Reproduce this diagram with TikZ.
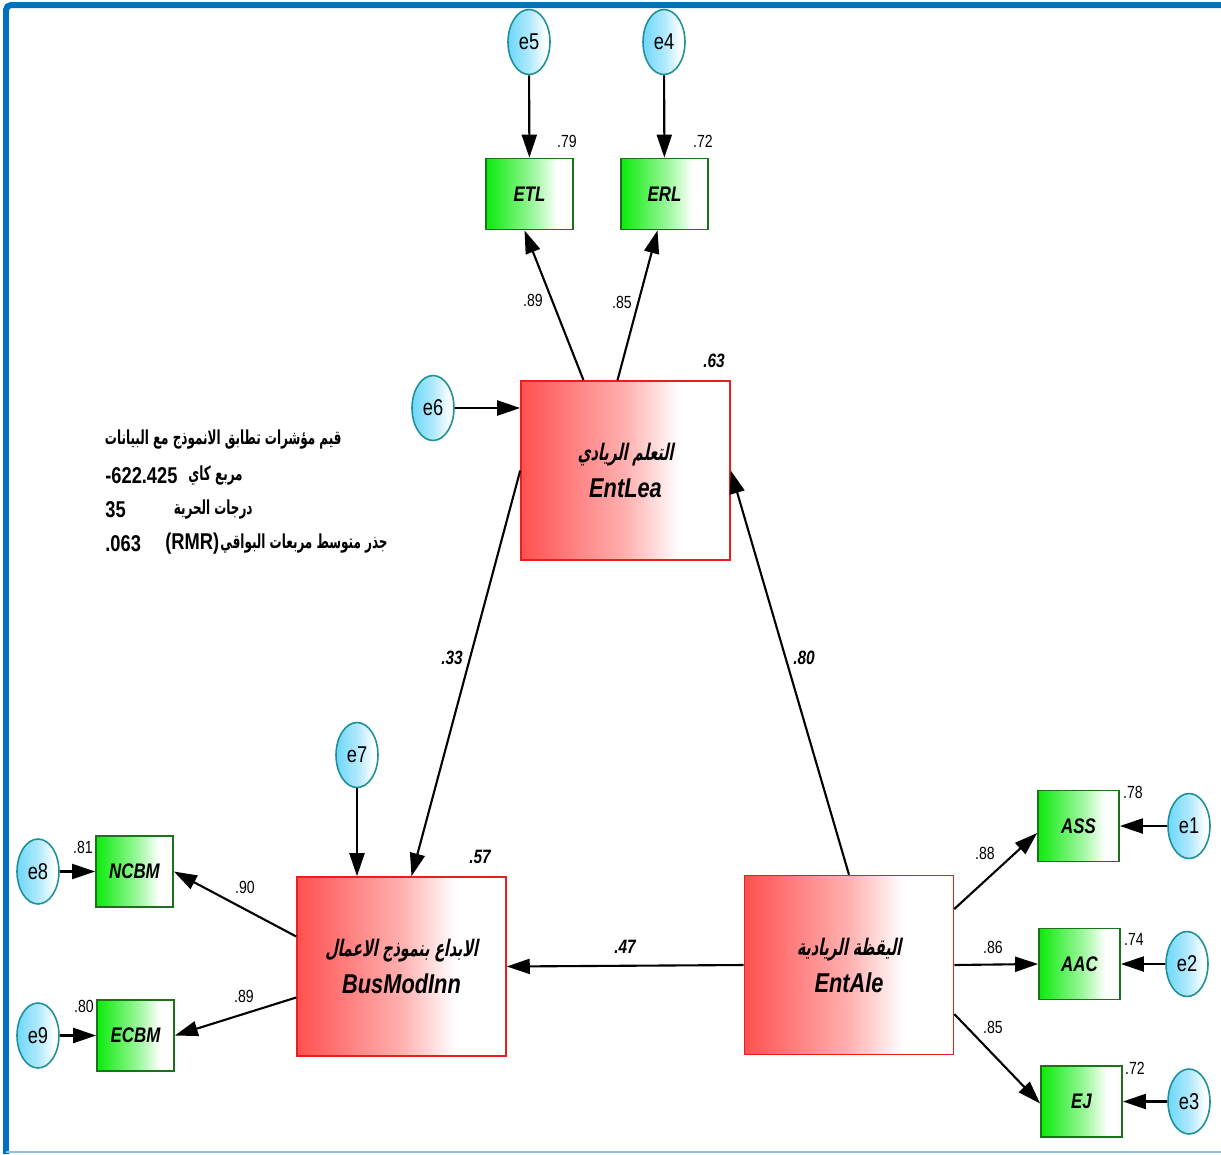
\documentclass[tikz,border=0pt]{standalone}
\usepackage{fontspec}
\setmainfont{Liberation Sans}
\newfontfamily\narrowfont[FakeStretch=0.8]{Liberation Sans}
\newfontfamily\arabicfont[Script=Arabic,FakeStretch=0.62,FakeSlant=0.2]{DejaVu Sans}
\newfontfamily\arabicplain[Script=Arabic,FakeStretch=0.62]{DejaVu Sans}
\TeXXeTstate=1
\usetikzlibrary{arrows.meta,shapes.geometric,calc}

\definecolor{latred}{RGB}{255,80,80}
\definecolor{latedge}{RGB}{235,30,30}
\definecolor{obsgreen}{RGB}{10,235,10}
\definecolor{obsedge}{RGB}{25,115,25}
\definecolor{errblue}{RGB}{110,215,250}
\definecolor{erredge}{RGB}{30,145,150}
\definecolor{frameblue}{RGB}{0,112,192}
\colorlet{latmid}{latred!45!white}
\colorlet{obsmid}{obsgreen!40!white}
\colorlet{errmid}{errblue!55!white}

\pgfdeclarehorizontalshading{latfill}{100bp}{color(0bp)=(latred); color(25bp)=(latred); color(50bp)=(latmid); color(63bp)=(white); color(100bp)=(white)}
\pgfdeclarehorizontalshading{obsfill}{100bp}{color(0bp)=(obsgreen); color(25bp)=(obsgreen); color(52bp)=(obsmid); color(66bp)=(white); color(100bp)=(white)}
\pgfdeclarehorizontalshading{errfill}{100bp}{color(0bp)=(errblue); color(25bp)=(errblue); color(50bp)=(errmid); color(70bp)=(white); color(100bp)=(white)}

\begin{document}
\begin{tikzpicture}[x=0.02cm, y=-0.02cm]
	\tikzstyle{latent}   = [rectangle, draw=latedge, line width=0.9pt, shading=latfill, shade,
	                        minimum width=4.18cm, minimum height=3.58cm, inner sep=0pt, align=center,
	                        font=\fontsize{15.5}{21}\selectfont]
	\tikzstyle{observed} = [rectangle, draw=obsedge, line width=1pt, shading=obsfill, shade,
	                        minimum width=1.62cm, minimum height=1.42cm, inner sep=0pt,
	                        font=\narrowfont\bfseries\itshape\fontsize{12}{14}\selectfont]
	\tikzstyle{error}    = [ellipse, draw=erredge, line width=0.9pt, shading=errfill, shade,
	                        minimum width=0.84cm, minimum height=1.3cm, inner sep=0pt,
	                        font=\narrowfont\fontsize{13}{15}\selectfont]
	\tikzstyle{loadlbl}  = [inner sep=0pt, font=\narrowfont\fontsize{10}{12}\selectfont]
	\tikzstyle{pathlbl}  = [inner sep=0pt, font=\narrowfont\bfseries\itshape\fontsize{11}{13}\selectfont]
	\tikzstyle{fittext}  = [inner sep=0pt, font=\narrowfont\bfseries\fontsize{13}{15}\selectfont]
	\tikzstyle{arr}      = [-{Triangle[length=0.46cm,width=0.3cm]}, line width=1.2pt]
	\useasboundingbox (0,0) rectangle (1221,1154);
	% frame
	\draw [frameblue, line width=0.12cm, rounded corners=0.1cm] (6,1154) -- (6,5) -- (1221,5);
	\draw [frameblue!45, line width=0.04cm] (6,1152) -- (1221,1152);
	% latent variables
	\node [latent] (EntLea)    at (625.5,470.5) {{\arabicfont\bfseries\fontsize{13}{16}\selectfont\beginR التعلم الريادي\endR}\\{\narrowfont\bfseries\itshape EntLea}};
	\node [latent] (BusModInn) at (401.5,966.5) {{\arabicfont\bfseries\fontsize{13}{16}\selectfont\beginR الابداع بنموذج الاعمال\endR}\\{\narrowfont\bfseries\itshape BusModInn}};
	\node [latent] (EntAle)    at (849,965)     {{\arabicfont\bfseries\fontsize{13}{16}\selectfont\beginR اليقظة الريادية\endR}\\{\narrowfont\bfseries\itshape EntAle}};
	% observed variables
	\node [observed, minimum width=1.74cm] (ETL)  at (529.5,194)   {ETL};
	\node [observed, minimum width=1.74cm] (ERL)  at (664.5,194)   {ERL};
	\node [observed, minimum width=1.54cm] (NCBM) at (134.5,871.5) {NCBM};
	\node [observed, minimum width=1.54cm] (ECBM) at (135.5,1035.5){ECBM};
	\node [observed] (ASS) at (1078.5,826)  {ASS};
	\node [observed] (AAC) at (1079.5,964)  {AAC};
	\node [observed] (EJ)  at (1081.5,1101.5) {EJ};
	% errors
	\node [error] (e5) at (529,42)     {e5};
	\node [error] (e4) at (664,42)     {e4};
	\node [error] (e6) at (433,408)    {e6};
	\node [error] (e7) at (357,755)    {e7};
	\node [error] (e8) at (38,871.5)   {e8};
	\node [error] (e9) at (38,1035.5)  {e9};
	\node [error] (e1) at (1189,826)   {e1};
	\node [error] (e2) at (1187,964)   {e2};
	\node [error] (e3) at (1189,1101.5){e3};
	% paths
	\draw [arr] (e5) -- (ETL);
	\draw [arr] (e4) -- (ERL);
	\draw [arr] ($(EntLea.north)+(-42,0)$) -- ($(ETL.south)+(-5,0)$);
	\draw [arr] ($(EntLea.north)+(-8,0)$)  -- ($(ERL.south)+(-7,0)$);
	\draw [arr] (e6) -- (e6 -| EntLea.west);
	\draw [arr] (EntLea.west) -- ($(BusModInn.north)+(10,0)$);
	\draw [arr] (EntAle.north) -- (EntLea.east);
	\draw [arr] (EntAle.west) -- (BusModInn.east);
	\draw [arr] (e7) -- (e7 |- BusModInn.north);
	\draw [arr] ($(BusModInn.west)+(0,-30)$) -- (NCBM.east);
	\draw [arr] ($(BusModInn.west)+(0,31)$)  -- (ECBM.east);
	\draw [arr] (e8) -- (NCBM);
	\draw [arr] (e9) -- (ECBM);
	\draw [arr] ($(EntAle.east)+(0,-56)$) -- ($(ASS.west)+(0,7)$);
	\draw [arr] (EntAle.east) -- (AAC.west);
	\draw [arr] ($(EntAle.east)+(0,49)$)  -- ($(EJ.west)+(0,2)$);
	\draw [arr] (e1) -- (ASS);
	\draw [arr] (e2) -- (AAC);
	\draw [arr] (e3) -- (EJ);
	% estimates
	\node [loadlbl] (sETL)  at (567,141)  {.79};
	\node [loadlbl] (sERL)  at (703,141)  {.72};
	\node [loadlbl] (sNCBM) at (83,847)   {.81};
	\node [loadlbl] (sECBM) at (84,1006)  {.80};
	\node [loadlbl] (sASS)  at (1133,792) {.78};
	\node [loadlbl] (sAAC)  at (1134,939) {.74};
	\node [loadlbl] (sEJ)   at (1135,1068){.72};
	\node [loadlbl] (pETL)  at (533,300)  {.89};
	\node [loadlbl] (pERL)  at (622,302)  {.85};
	\node [loadlbl] (pNCBM) at (245,887)  {.90};
	\node [loadlbl] (pECBM) at (244,996)  {.89};
	\node [loadlbl] (pASS)  at (985,853)  {.88};
	\node [loadlbl] (pAAC)  at (993,947)  {.86};
	\node [loadlbl] (pEJ)   at (993,1027) {.85};
	\node [pathlbl] (sEntLea)    at (714,361) {.63};
	\node [pathlbl] (sBusModInn) at (480,857) {.57};
	\node [pathlbl] (pLeaBus) at (452,658) {.33};
	\node [pathlbl] (pAleLea) at (804,658) {.80};
	\node [pathlbl] (pAleBus) at (625,947) {.47};
	% fit indices
	\node [fittext, anchor=east] (fitTitle) at (342,440) {\arabicplain\bfseries\fontsize{11}{13}\selectfont\beginR قيم مؤشرات تطابق الانموذج مع البيانات\endR};
	\node [fittext, anchor=east] (chiLbl)   at (243,476) {\arabicplain\bfseries\fontsize{11}{13}\selectfont\beginR مربع كاي\endR};
	\node [fittext, anchor=west] (chiVal)   at (105,476) {-622.425};
	\node [fittext, anchor=east] (dfLbl)    at (253,510) {\arabicplain\bfseries\fontsize{11}{13}\selectfont\beginR درجات الحرية\endR};
	\node [fittext, anchor=west] (dfVal)    at (105,510) {35};
	\node [fittext, anchor=east] (rmrLbl)   at (388,544) {\arabicplain\bfseries\fontsize{11}{13}\selectfont\beginR جذر متوسط مربعات البواقي\endR};
	\node [fittext, anchor=west] (rmrTag)   at (165,544) {(RMR)};
	\node [fittext, anchor=west] (rmrVal)   at (105,544) {.063};
\end{tikzpicture}
\end{document}
